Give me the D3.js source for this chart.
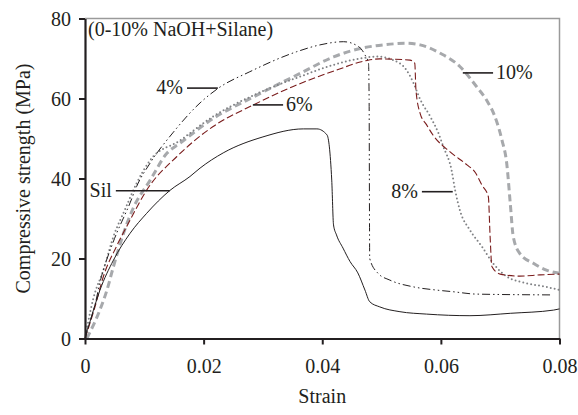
<!DOCTYPE html>
<html>
<head>
<meta charset="utf-8">
<script src="https://cdn.jsdelivr.net/npm/d3@7"></script>
<style>
  body { margin: 0; background: #fff; }
  svg { font-family: "Liberation Serif", "Times New Roman", serif; }
</style>
</head>
<body>
<svg id="chart" width="578" height="415"></svg>
<script>
// strain / compressive strength (MPa)
const sil = [[0,0.5],[0.0008,4],[0.0015,7.5],[0.0025,12],[0.0048,19.6],[0.0076,26.3],[0.0104,31.3],[0.0143,37],
  [0.0177,40.5],[0.0194,42.6],[0.0233,46.4],[0.030,50.4],[0.0368,52.4],[0.0391,52.4],[0.0408,50.9],
  [0.0416,39.6],[0.0419,28.4],[0.0424,25.9],[0.0435,22.6],[0.0447,19.2],[0.046,16.4],[0.0472,12.1],
  [0.048,9.2],[0.0497,7.9],[0.0531,6.7],[0.0576,6.1],[0.0649,5.7],[0.0717,6.3],[0.079,7.1],[0.080,7.4]];

const naoh4 = [[0,0],[0.0008,4],[0.0017,8.5],[0.0025,13.9],[0.0047,23.9],[0.0076,33.9],[0.0087,38],[0.011,43.9],
  [0.0148,51.4],[0.0194,58.9],[0.0225,62.6],[0.0278,66.7],[0.0357,71.7],[0.0396,73.4],[0.0436,74.2],
  [0.0461,73],[0.0472,70.9],[0.0478,68.8],[0.0479,60],[0.048,20],[0.0494,16.3],[0.0514,14.6],
  [0.0554,12.9],[0.0593,12.1],[0.062,11.7],[0.066,11.1],[0.0787,10.9]];

const naoh6 = [[0,0],[0.0017,8],[0.0031,15.5],[0.0053,23],[0.0076,29.6],[0.0104,37.1],[0.0155,45.5],
  [0.0216,53],[0.0284,58.4],[0.0351,63],[0.0424,67.1],[0.0475,69.5],[0.0497,69.9],[0.0548,69.6],
  [0.0556,68.8],[0.0558,62.1],[0.0565,56.3],[0.0576,53.4],[0.0587,50.8],[0.0615,46.7],[0.0644,43.4],
  [0.0658,41.5],[0.0669,38.4],[0.068,35.5],[0.0683,25.5],[0.0686,18],[0.070,16.1],[0.0733,15.6],
  [0.0767,15.9],[0.08,16.1]];

const naoh8 = [[0,0],[0.0014,10],[0.0031,17.1],[0.0048,25.5],[0.0067,32.1],[0.0087,38.8],[0.011,44.6],
  [0.016,49.5],[0.0216,55.5],[0.0284,60.8],[0.0363,65.5],[0.0419,68.4],[0.0464,70],[0.0492,70.5],
  [0.052,69.6],[0.0542,67.1],[0.0554,63.8],[0.0565,59.8],[0.0582,55.5],[0.0596,51.3],[0.0604,48],
  [0.0618,42.1],[0.0624,37.1],[0.0632,32.1],[0.0649,27.1],[0.0669,23],[0.0688,18.8],[0.0711,15.5],
  [0.0745,13.8],[0.0778,12.9],[0.08,12.1]];

const naoh10 = [[0.0003,0],[0.0025,7.1],[0.0037,12.1],[0.0048,18],[0.0065,26.3],[0.0081,32.5],[0.011,39.6],
  [0.0138,46.3],[0.016,48.8],[0.0216,55],[0.0284,60.4],[0.0363,66.3],[0.0419,70.4],[0.0464,72.5],
  [0.0503,73.4],[0.0542,73.8],[0.0565,73.4],[0.0599,71.3],[0.0632,68],[0.066,63],[0.0677,59.6],
  [0.0691,55.5],[0.0703,49.6],[0.0711,43.8],[0.0717,33.8],[0.0722,25.5],[0.0733,21.3],[0.0756,18.8],
  [0.0778,17.1],[0.08,16.3]];

const xTicks = [0, 0.02, 0.04, 0.06, 0.08];
const xTickLabels = ["0", "0.02", "0.04", "0.06", "0.08"];
const yTicks = [0, 20, 40, 60, 80];

// label text, pointer line from x1 to x2 at y (data units), text side
const labelNames = ["4%", "6%", "Sil", "10%", "8%"];
const labelLines = [[0.0172, 0.0224, 62.6], [0.0283, 0.0334, 58.4], [0.0052, 0.0143, 36.95],
  [0.0637, 0.0688, 66.4], [0.0568, 0.062, 36.7]];
const labelSide = ["left", "right", "left", "right", "left"];

const svg = d3.select("#chart");
const mLeft = 85, mTop = 18.5, w = 474.5, h = 320;
const fs = 20;

const x = d3.scaleLinear().domain([0, 0.08]).range([mLeft, mLeft + w]);
const y = d3.scaleLinear().domain([0, 80]).range([mTop + h, mTop]);

// top / right frame
svg.append("path")
  .attr("d", `M${x(0)},${y(80)}H${x(0.08)}V${y(0)}`)
  .attr("fill", "none").attr("stroke", "#9a9a9a").attr("stroke-width", 1.5);

const line = d3.line().x(d => x(d[0])).y(d => y(d[1])).curve(d3.curveMonotoneX);

const series = [
  { data: naoh10, color: "#a7a9ac", width: 3, dash: "7,4", cap: "butt" },
  { data: naoh8, color: "#808285", width: 2, dash: "0,4", cap: "round" },
  { data: naoh6, color: "#7a1c1c", width: 1.1, dash: "7,3", cap: "butt" },
  { data: naoh4, color: "#231f20", width: 1, dash: "8,3,1.5,3,1.5,3", cap: "butt" },
  { data: sil, color: "#231f20", width: 1, dash: null, cap: "butt" }
];

svg.selectAll("path.curve")
  .data(series)
  .enter().append("path")
  .attr("class", "curve")
  .attr("d", d => line(d.data))
  .attr("fill", "none")
  .attr("stroke", d => d.color)
  .attr("stroke-width", d => d.width)
  .attr("stroke-dasharray", d => d.dash)
  .attr("stroke-linecap", d => d.cap)
  .attr("stroke-linejoin", "round");

// axes
const xAxis = d3.axisBottom(x).tickValues(xTicks).tickFormat((d, i) => xTickLabels[i]).tickSize(6).tickSizeOuter(0);
const gx = svg.append("g").attr("transform", `translate(0,${y(0)})`).call(xAxis);
const yAxis = d3.axisLeft(y).tickValues(yTicks).tickSize(6).tickSizeOuter(0);
const gy = svg.append("g").attr("transform", `translate(${x(0)},0)`).call(yAxis);

[gx, gy].forEach(g => {
  g.attr("font-family", null).attr("font-size", null);
  g.select(".domain").attr("stroke", "#231f20").attr("stroke-width", 2.2);
  g.selectAll(".tick line").attr("stroke", "#231f20").attr("stroke-width", 2);
  g.selectAll(".tick text").attr("fill", "#231f20").attr("font-size", fs);
});
gx.selectAll(".tick text").attr("y", 0).attr("dy", 34);
gy.selectAll(".tick text").attr("x", -14).attr("dy", "0.33em");

// axis titles
svg.append("text").attr("x", x(0.04)).attr("y", 403)
  .attr("text-anchor", "middle").attr("font-size", fs).attr("fill", "#231f20").text("Strain");
svg.append("text").attr("transform", `translate(30,${y(40)}) rotate(-90)`)
  .attr("text-anchor", "middle").attr("font-size", fs).attr("fill", "#231f20")
  .text("Compressive strength (MPa)");

svg.append("text").attr("x", x(0) + 3).attr("y", 36)
  .attr("font-size", fs).attr("fill", "#231f20").text("(0-10% NaOH+Silane)");

// curve labels with pointer lines
labelNames.forEach((name, i) => {
  const [x1, x2, ly] = labelLines[i];
  svg.append("line")
    .attr("x1", x(x1)).attr("x2", x(x2)).attr("y1", y(ly)).attr("y2", y(ly))
    .attr("stroke", "#231f20").attr("stroke-width", 1.6);
  const onLeft = labelSide[i] === "left";
  svg.append("text")
    .attr("x", onLeft ? x(x1) - 4 : x(x2) + 3)
    .attr("y", y(ly) + 6)
    .attr("text-anchor", onLeft ? "end" : "start")
    .attr("font-size", fs).attr("fill", "#231f20")
    .text(name);
});
</script>
</body>
</html>
